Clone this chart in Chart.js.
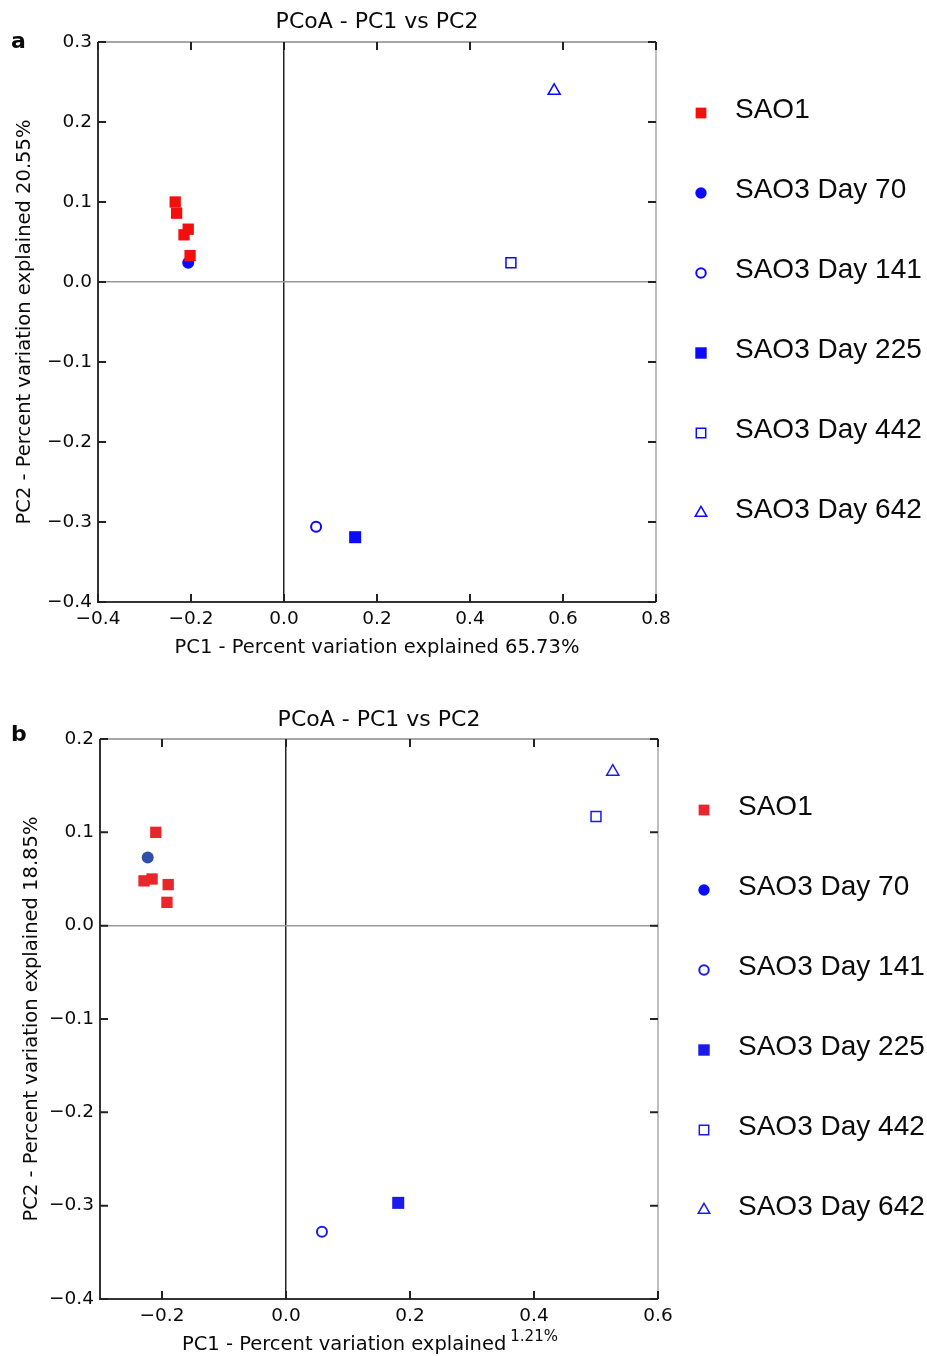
<!DOCTYPE html>
<html>
<head>
<meta charset="utf-8">
<script src="https://cdn.jsdelivr.net/npm/chart.js@4.4.1/dist/chart.umd.min.js"></script>
<style>
  html, body { margin: 0; padding: 0; background: #fff; }
  #wrap { position: relative; width: 927px; height: 1356px; }
  .panel { position: absolute; left: 0; width: 927px; }
  #pa { top: 0; }
  #pb { top: 690px; }
</style>
</head>
<body>
<div id="wrap">
  <div class="panel" id="pa"><canvas id="chartA" width="927" height="680"></canvas></div>
  <div class="panel" id="pb"><canvas id="chartB" width="927" height="666"></canvas></div>
</div>
<script>
/* ---------- Daten ---------- */
const SERIES_LABELS = ["SAO1", "SAO3 Day 70", "SAO3 Day 141", "SAO3 Day 225", "SAO3 Day 442", "SAO3 Day 642"];

// Panel a  [PC1, PC2]
const A_SAO1   = [[-0.234, 0.100], [-0.231, 0.086], [-0.206, 0.066], [-0.215, 0.059], [-0.202, 0.033]];
const A_DAY70  = [[-0.206, 0.024]];
const A_DAY141 = [[0.069, -0.306]];
const A_DAY225 = [[0.153, -0.319]];
const A_DAY442 = [[0.488, 0.024]];
const A_DAY642 = [[0.581, 0.239]];
const A_X_TICKS = [-0.4, -0.2, 0.0, 0.2, 0.4, 0.6, 0.8];
const A_Y_TICKS = [-0.4, -0.3, -0.2, -0.1, 0.0, 0.1, 0.2, 0.3];

// Panel b  [PC1, PC2]
const B_SAO1   = [[-0.210, 0.100], [-0.229, 0.048], [-0.216, 0.050], [-0.190, 0.044], [-0.192, 0.025]];
const B_DAY70  = [[-0.223, 0.073]];
const B_DAY141 = [[0.058, -0.328]];
const B_DAY225 = [[0.181, -0.297]];
const B_DAY442 = [[0.500, 0.117]];
const B_DAY642 = [[0.527, 0.165]];
const B_X_TICKS = [-0.2, 0.0, 0.2, 0.4, 0.6];
const B_Y_TICKS = [-0.4, -0.3, -0.2, -0.1, 0.0, 0.1, 0.2];

/* ---------- Stil ---------- */
const FONT = "'DejaVu Sans', sans-serif";
const LEGEND_FONT = "28px 'Liberation Sans', Arial, sans-serif";
const TEXT = "#0a0a0a";
const fmt = (v) => (v < -1e-9 ? "\u2212" : "") + Math.abs(v).toFixed(1);

function markerStyles(red, blue, blue70) {
  return [
    { pointStyle: "rect",     pointRadius: 8,   backgroundColor: red,    borderColor: red,  borderWidth: 0 },
    { pointStyle: "circle",   pointRadius: 6,   backgroundColor: blue70, borderColor: blue70, borderWidth: 0 },
    { pointStyle: "circle",   pointRadius: 5,   backgroundColor: "#fff", borderColor: blue, borderWidth: 2 },
    { pointStyle: "rect",     pointRadius: 8.5, backgroundColor: blue,   borderColor: blue, borderWidth: 0 },
    { pointStyle: "rect",     pointRadius: 7,   backgroundColor: "#fff", borderColor: blue, borderWidth: 1.5 },
    { pointStyle: "triangle", pointRadius: 7,   backgroundColor: "#fff", borderColor: blue, borderWidth: 1.5 },
  ];
}

// Rahmen, Innen-Ticks, Titel, Achsentitel, Legende
function makeDeco(cfg) {
  return {
    id: "deco",
    afterDraw(chart) {
      const ctx = chart.ctx;
      const { left, right, top, bottom } = chart.chartArea;
      const xs = chart.scales.x, ys = chart.scales.y;
      ctx.save();

      // Rahmen
      ctx.lineWidth = 1.5;
      ctx.strokeStyle = "#888";
      ctx.beginPath(); ctx.moveTo(left, top); ctx.lineTo(right, top); ctx.stroke();
      ctx.strokeStyle = "#aaa";
      ctx.beginPath(); ctx.moveTo(right, top); ctx.lineTo(right, bottom); ctx.stroke();
      ctx.lineWidth = 2;
      ctx.strokeStyle = "#333";
      ctx.beginPath(); ctx.moveTo(left, top); ctx.lineTo(left, bottom); ctx.lineTo(right, bottom); ctx.stroke();

      // Ticks nach innen, auf allen vier Seiten
      const TL = 8;
      ctx.strokeStyle = "#222";
      ctx.lineWidth = 2;
      xs.ticks.forEach((t) => {
        const px = xs.getPixelForValue(t.value);
        ctx.beginPath();
        ctx.moveTo(px, bottom); ctx.lineTo(px, bottom - TL);
        ctx.moveTo(px, top); ctx.lineTo(px, top + TL);
        ctx.stroke();
      });
      ys.ticks.forEach((t) => {
        const py = ys.getPixelForValue(t.value);
        ctx.beginPath();
        ctx.moveTo(left, py); ctx.lineTo(left + TL, py);
        ctx.moveTo(right, py); ctx.lineTo(right - TL, py);
        ctx.stroke();
      });

      ctx.fillStyle = TEXT;
      // Paneelbuchstabe
      ctx.font = "bold 22px " + FONT;
      ctx.textAlign = "left";
      ctx.textBaseline = "middle";
      ctx.fillText(cfg.letter, 11, cfg.letterY);

      // Titel
      ctx.font = "22px " + FONT;
      ctx.textAlign = "center";
      ctx.fillText("PCoA - PC1 vs PC2", (left + right) / 2, cfg.titleY);

      // x-Achsentitel
      ctx.font = "19.5px " + FONT;
      if (cfg.xSup) {
        ctx.textAlign = "left";
        ctx.fillText(cfg.xTitle, cfg.xTitleX, cfg.xTitleY);
        const w = ctx.measureText(cfg.xTitle).width;
        ctx.font = "15px " + FONT;
        ctx.fillText(cfg.xSup, cfg.xTitleX + w + 4, cfg.xTitleY - 8);
      } else {
        ctx.textAlign = "center";
        ctx.fillText(cfg.xTitle, (left + right) / 2, cfg.xTitleY);
      }

      // y-Achsentitel
      ctx.font = "19.5px " + FONT;
      ctx.save();
      ctx.translate(cfg.yTitleX, (top + bottom) / 2);
      ctx.rotate(-Math.PI / 2);
      ctx.textAlign = "center";
      ctx.fillText(cfg.yTitle, 0, 0);
      ctx.restore();

      // Legende
      chart.data.datasets.forEach((ds, i) => {
        const y = cfg.legendY + i * 80;
        const col = (cfg.legendColors && cfg.legendColors[i]) || null;
        ctx.fillStyle = col && ds.borderWidth === 0 ? col : ds.backgroundColor;
        ctx.strokeStyle = col || ds.borderColor;
        ctx.lineWidth = ds.borderWidth;
        Chart.helpers.drawPoint(ctx, {
          pointStyle: ds.pointStyle,
          radius: ds.pointRadius * 0.95,
          borderWidth: ds.borderWidth,
          rotation: 0,
        }, cfg.legendX, y);
        ctx.fillStyle = TEXT;
        ctx.font = LEGEND_FONT;
        ctx.textAlign = "left";
        ctx.textBaseline = "middle";
        ctx.fillText(ds.label, cfg.legendX + 34, y - 3);
      });
      ctx.restore();
    },
  };
}

function buildChart(canvasId, series, styles, geo, xr, yr, xTicks, yTicks, deco) {
  const H = document.getElementById(canvasId).height;
  const datasets = series.map((pts, i) => Object.assign({
    label: SERIES_LABELS[i],
    data: pts.map((p) => ({ x: p[0], y: p[1] })),
    pointHoverRadius: styles[i].pointRadius,
  }, styles[i]));

  return new Chart(document.getElementById(canvasId), {
    type: "scatter",
    data: { datasets },
    options: {
      responsive: false,
      animation: false,
      layout: { padding: { left: 0, top: geo.top, right: 927 - geo.right, bottom: 0 } },
      plugins: { legend: { display: false }, tooltip: { enabled: false } },
      scales: {
        x: {
          type: "linear",
          min: xr[0], max: xr[1],
          afterBuildTicks: (s) => { s.ticks = xTicks.map((v) => ({ value: v })); },
          afterFit: (s) => { s.height = H - geo.bottom; },
          border: { display: false },
          grid: {
            drawTicks: false,
            lineWidth: 1.5,
            color: (c) => (c.tick && Math.abs(c.tick.value) < 1e-9 ? "#222" : "rgba(0,0,0,0)"),
          },
          ticks: { padding: 6, color: TEXT, font: { family: FONT, size: 18.5 }, maxRotation: 0, autoSkip: false, callback: fmt },
        },
        y: {
          type: "linear",
          min: yr[0], max: yr[1],
          afterBuildTicks: (s) => { s.ticks = yTicks.map((v) => ({ value: v })); },
          afterFit: (s) => { s.width = geo.left; },
          border: { display: false },
          grid: {
            drawTicks: false,
            lineWidth: 1.5,
            color: (c) => (c.tick && Math.abs(c.tick.value) < 1e-9 ? "#999" : "rgba(0,0,0,0)"),
          },
          ticks: { padding: 6, color: TEXT, font: { family: FONT, size: 18.5 }, autoSkip: false, callback: fmt },
        },
      },
    },
    plugins: [makeDeco(deco)],
  });
}

buildChart(
  "chartA",
  [A_SAO1, A_DAY70, A_DAY141, A_DAY225, A_DAY442, A_DAY642],
  markerStyles("#f40f0f", "#0a0aff", "#0a0aff"),
  { left: 98, right: 656, top: 42, bottom: 602 },
  [-0.4, 0.8], [-0.4, 0.3], A_X_TICKS, A_Y_TICKS,
  {
    letter: "a", letterY: 42, titleY: 22,
    xTitle: "PC1 - Percent variation explained 65.73%", xTitleY: 648,
    yTitle: "PC2 - Percent variation explained 20.55%", yTitleX: 25,
    legendX: 701, legendY: 113,
  }
);

buildChart(
  "chartB",
  [B_SAO1, B_DAY70, B_DAY141, B_DAY225, B_DAY442, B_DAY642],
  markerStyles("#e8262b", "#1a1aee", "#2f4fa8"),
  { left: 100, right: 658, top: 49, bottom: 609 },
  [-0.3, 0.6], [-0.4, 0.2], B_X_TICKS, B_Y_TICKS,
  {
    letter: "b", letterY: 45, titleY: 30,
    xTitle: "PC1 - Percent variation explained", xSup: "1.21%", xTitleX: 182, xTitleY: 655,
    yTitle: "PC2 - Percent variation explained 18.85%", yTitleX: 32,
    legendX: 704, legendY: 120,
    legendColors: [null, "#0a0aff"],
  }
);
</script>
</body>
</html>
